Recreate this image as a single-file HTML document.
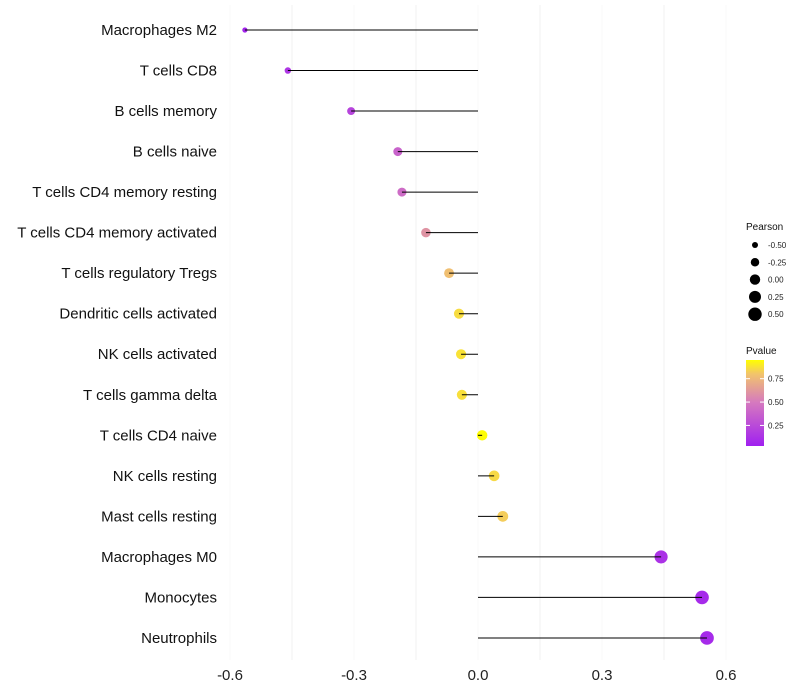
<!DOCTYPE html>
<html><head><meta charset="utf-8">
<style>
body{margin:0;background:#fff;font-family:"Liberation Sans",sans-serif;}
svg{display:block}
</style></head>
<body>
<svg id="chart" width="800" height="700"></svg>
<script>
const categories=["Macrophages M2","T cells CD8","B cells memory","B cells naive","T cells CD4 memory resting","T cells CD4 memory activated","T cells regulatory  Tregs","Dendritic cells activated","NK cells activated","T cells gamma delta","T cells CD4 naive","NK cells resting","Mast cells resting","Macrophages M0","Monocytes","Neutrophils"];
const pearson=[-0.564,-0.46,-0.307,-0.194,-0.184,-0.126,-0.07,-0.046,-0.041,-0.039,0.01,0.039,0.06,0.443,0.542,0.554];
const pvalue=[0.03,0.12,0.2,0.37,0.42,0.6,0.78,0.88,0.9,0.89,0.99,0.87,0.83,0.1,0.06,0.06];
const xTicks=[-0.6,-0.3,0,0.3,0.6];
const xMinor=[-0.45,-0.15,0.15,0.45];
const sizeLegend=[-0.5,-0.25,0,0.25,0.5];
const pTicks=[0.25,0.5,0.75];

const NS="http://www.w3.org/2000/svg";
const svg=document.getElementById("chart");
function el(t,a,p){const e=document.createElementNS(NS,t);for(const k in a)e.setAttribute(k,a[k]);(p||svg).appendChild(e);return e;}
const x=v=>478+v*413.33;
const y=i=>30+i*40.53;
const r=v=>Math.sqrt(Math.max(2,27+36*v));
function lerp(a,b,t){return a.map((c,i)=>Math.round(c+(b[i]-c)*t));}
const stops=[[0,[160,32,240]],[0.5,[214,122,190]],[0.8,[242,196,108]],[1,[255,255,0]]];
function col(p){for(let i=1;i<stops.length;i++){if(p<=stops[i][0]){const t=(p-stops[i-1][0])/(stops[i][0]-stops[i-1][0]);const c=lerp(stops[i-1][1],stops[i][1],t);return `rgb(${c})`;}}return "rgb(255,255,0)";}

xMinor.forEach(v=>{const l=el("line",{x1:x(v),x2:x(v),y1:5,y2:660,stroke:"#f0f0f0","stroke-width":1});

});
xTicks.forEach(v=>{const l=el("line",{x1:x(v),x2:x(v),y1:5,y2:660,stroke:"#f8f8f8","stroke-width":1});


const t=el("text",{x:x(v),y:680,"text-anchor":"middle","font-size":15,fill:"#222"});t.textContent=v===0?"0.0":v.toFixed(1);

});

categories.forEach((c,i)=>{
const t=el("text",{x:217,y:y(i)+5,"text-anchor":"end","font-size":15,fill:"#111","xml:space":"preserve"});t.textContent=c;


const d=el("circle",{cx:x(pearson[i]),cy:y(i),r:r(pearson[i]),fill:col(pvalue[i])});


const l=el("line",{x1:x(0),x2:x(pearson[i]),y1:y(i),y2:y(i),stroke:"#000","stroke-width":1});


});

const lt=el("text",{x:746,y:230,"font-size":10,fill:"#111"});lt.textContent="Pearson";


sizeLegend.forEach((v,i)=>{const cy=245+i*17.3;
const c=el("circle",{cx:755,cy:cy,r:r(v),fill:"#000"});


const t=el("text",{x:768,y:cy+3,"font-size":8,fill:"#222"});t.textContent=v.toFixed(2);

});

const pt=el("text",{x:746,y:354,"font-size":10,fill:"#111"});pt.textContent="Pvalue";


const defs=el("defs",{});const g=el("linearGradient",{id:"pg",x1:0,y1:1,x2:0,y2:0},defs);
const pmin=0.03,pmax=0.95;
stops.forEach(s=>{el("stop",{offset:Math.min(1,Math.max(0,(s[0]-pmin)/(pmax-pmin))),"stop-color":`rgb(${s[1]})`},g);});
const bar=el("rect",{x:746,y:360,width:18,height:86,fill:"url(#pg)"});


const py=p=>446-(p-pmin)/(pmax-pmin)*86;
pTicks.forEach(p=>{el("line",{x1:746,x2:750,y1:py(p),y2:py(p),stroke:"#fff"});el("line",{x1:760,x2:764,y1:py(p),y2:py(p),stroke:"#fff"});
const t=el("text",{x:768,y:py(p)+3,"font-size":8,fill:"#222"});t.textContent=p.toFixed(2);

});
</script>
</body></html>
